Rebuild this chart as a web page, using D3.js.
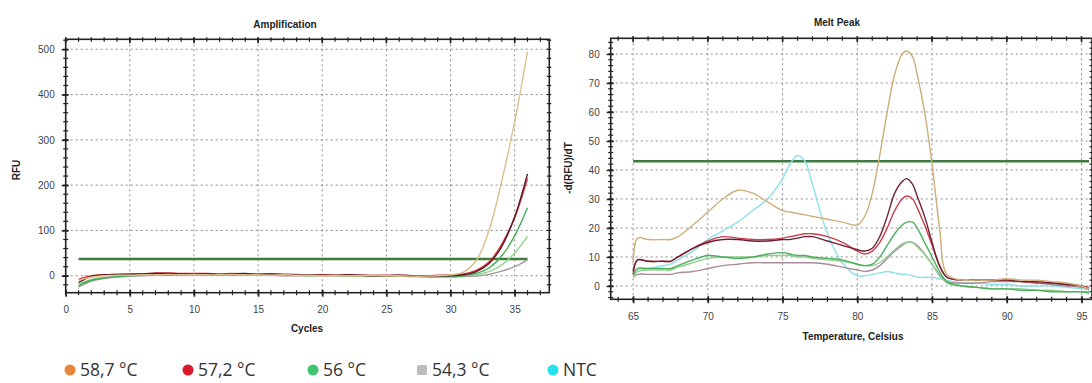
<!DOCTYPE html>
<html>
<head>
<meta charset="utf-8">
<script src="https://cdn.jsdelivr.net/npm/d3@7"></script>
<style>
  html, body { margin: 0; padding: 0; background: #fff; }
  svg { display: block; }
  .tick text { font-family: "Liberation Sans", Arial, sans-serif; font-size: 10px; fill: #444; }
  .ttl { font-family: "Liberation Sans", Arial, sans-serif; font-size: 10px; font-weight: bold; fill: #222; }
  .leg { font-family: "Open Sans", "Noto Sans", sans-serif; font-size: 17.5px; fill: #333; }
</style>
</head>
<body>
<svg id="chart" width="1092" height="383"></svg>
<script>
// ---- Amplification data (RFU per cycle) ----
const ampCycles = [1,2,3,4,5,6,7,8,9,10,11,12,13,14,15,16,17,18,19,20,21,22,23,24,25,26,27,28,29,30,31,32,33,34,35,36];
const amp587 = [-10,-3,0,1,1,2,2,3,2,3,2,2,3,2,2,1,2,1,1,0,1,0,0,1,0,0,-1,-1,0,2,8,33,100,210,340,495];
const amp572a = [-15,-2,2,3,3,4,5,5,4,4,4,3,4,5,3,4,3,2,2,1,1,2,1,0,0,1,0,-1,0,0,2,9,27,65,130,225];
const amp572b = [-8,0,2,3,4,4,6,6,5,5,5,4,5,4,4,4,3,3,2,2,2,2,1,1,1,1,0,0,1,2,4,12,30,70,128,215];
const amp56a = [-22,-10,-5,-2,0,1,2,2,2,3,2,2,2,3,2,2,2,1,1,1,1,0,0,0,0,0,-1,-2,-2,-1,0,5,17,44,88,150];
const amp56b = [-18,-8,-4,-1,0,1,1,2,2,2,2,2,1,2,2,1,1,1,0,0,0,0,-1,-1,-1,-1,-2,-2,-3,-2,-1,2,9,24,50,87];
const amp543 = [-25,-12,-6,-3,-1,0,1,1,1,2,1,1,1,1,1,1,0,0,0,0,0,0,-1,-1,-1,-1,-2,-2,-3,-3,-2,-1,3,10,20,35];
const ampThreshold = 37;
const ampThresholdRange = [1, 36];

// ---- Melt peak data (-d(RFU)/dT per temperature) ----
const meltTemps = [65,65.3,66,67,67.5,68,69,70,71,72,73,74,75,75.5,76,76.5,77,78,79,80,80.5,81,81.5,82,82.5,83,83.3,83.7,84,84.5,85,85.5,86,87,88,89,90,91,92,93,94,95,95.5];
const melt587 = [8,16.5,16,16,16,17,21,25.5,30,33,32,29,26,25.5,25,24.5,24,23,22,21,24,32,45,60,73,80,81,79,73,60,42,20,4,2,2,2,2.5,2,2,1.5,1,0,-1];
const meltNTC = [4,5,6,7,7.5,9,12,16,19,22,26,30,37,42,45,43,35,18,8,3.5,3.5,4,4.5,5,4.5,4,4,3.5,3,3,3,2.5,2,1,1,0.5,0.5,0,0,0,-0.5,-1,-1.5];
const melt572a = [5,9,8.5,8.5,8.5,10,13,15,16,16,15.5,15.5,16,16,16.5,17,17,15.5,14,12.5,12,13,17,24,32,36,37,35,31,24,15,7,3,2,2,2,2,1.5,1.5,1,0.5,0,-1];
const melt572b = [4,9,8.5,8.5,8.5,10,13,15.5,17,16.5,16,16,16.5,17,17.5,18,18,17,15,12,11,12,15,20,26,30,31,30,27,21,14,7,3,2,2,2,2,1.5,1,1,0.5,0,-0.5];
const melt56a = [4,6,6,6,6,7,9,10.5,10,9.5,10,11,11.5,11,10.5,10.5,10,9.5,9,7.5,7,7.5,10,14,18,21,22,22,20,15,10,5,1.5,0,-0.5,-1,-1,-1.5,-1.5,-2,-2,-2,-2.5];
const melt56b = [3,5,5.5,5.5,5.5,6.5,8,9.5,10,10,10,10.5,10.5,10.5,10,10,9.5,9,8.5,7.5,7,7,8,10,12.5,14.5,15,15,13.5,11,7.5,3.5,1,0,-0.5,-1,-1,-1,-1.5,-1.5,-2,-2,-2];
const melt543 = [3,4,4,4,4,4.5,5,6,7,7.5,8,8,8,8,8,8,8,7.5,6.5,5.5,5,5.5,7,9.5,12,14,15,15,14,11,7.5,4,1.5,1,1,1.5,1.5,1.5,1,0.5,0,-0.5,-1];
const meltThreshold = 43;
const meltThresholdRange = [65, 95.5];

// ---- Axis ticks and legend ----
const ampXTicks = [0,5,10,15,20,25,30,35];
const ampYTicks = [0,100,200,300,400,500];
const meltXTicks = [65,70,75,80,85,90,95];
const meltYTicks = [0,10,20,30,40,50,60,70,80];
const legendLabels = ["58,7 °C", "57,2 °C", "56 °C", "54,3 °C", "NTC"];
const legendColors = ["#e8873a", "#d9182d", "#3ec46d", "#bdbdbd", "#27e0f0"];
const legendShapes = ["circle", "circle", "circle", "square", "circle"];

const svg = d3.select("#chart");
svg.append("rect").attr("width", 1092).attr("height", 383).attr("fill", "#fff");

function drawPanel(o) {
  const g = svg.append("g");
  const x = d3.scaleLinear().domain(o.xDomain).range(o.xRange);
  const y = d3.scaleLinear().domain(o.yDomain).range(o.yRange);
  const [x0, x1] = o.xRange, [y0, y1] = o.yRange;

  // dotted grid
  const grid = g.append("g").attr("stroke", "#8c8c8c").attr("stroke-width", 1).attr("stroke-dasharray", "2,3");
  grid.selectAll(".gx").data(o.xTicks).join("line")
    .attr("x1", d => x(d)).attr("x2", d => x(d)).attr("y1", y1).attr("y2", y0);
  grid.selectAll(".gy").data(o.yTicks).join("line")
    .attr("y1", d => y(d)).attr("y2", d => y(d)).attr("x1", x0).attr("x2", x1);

  // minor ticks on all four sides
  const minorX = d3.range(Math.ceil(o.xDomain[0]), o.xDomain[1], o.xMinor);
  const minorY = d3.range(Math.ceil(o.yDomain[0] / o.yMinor) * o.yMinor, o.yDomain[1], o.yMinor);
  const mk = g.append("g").attr("stroke", "#222").attr("stroke-width", 1.2);
  mk.selectAll(".mb").data(minorX).join("line").attr("x1", d => x(d)).attr("x2", d => x(d)).attr("y1", y0 - 2.5).attr("y2", y0 + 2.5);
  mk.selectAll(".mt").data(minorX).join("line").attr("x1", d => x(d)).attr("x2", d => x(d)).attr("y1", y1 - 2).attr("y2", y1 + 2.5);
  mk.selectAll(".ml").data(minorY).join("line").attr("y1", d => y(d)).attr("y2", d => y(d)).attr("x1", x0 - 2.5).attr("x2", x0 + 2.5);
  mk.selectAll(".mr").data(minorY).join("line").attr("y1", d => y(d)).attr("y2", d => y(d)).attr("x1", x1 - 2.5).attr("x2", x1 + 2);

  // major axes with labels
  const ax = g.append("g").attr("transform", `translate(0,${y0 - 3})`)
    .call(d3.axisBottom(x).tickValues(o.xTicks).tickSize(7).tickPadding(o.xPad).tickSizeOuter(0));
  ax.select(".domain").remove();
  ax.selectAll(".tick line").attr("stroke", "#222").attr("stroke-width", 1.6);
  const ay = g.append("g").attr("transform", `translate(${x0 + 3},0)`)
    .call(d3.axisLeft(y).tickValues(o.yTicks).tickSize(7).tickPadding(o.yPad).tickSizeOuter(0));
  ay.select(".domain").remove();
  ay.selectAll(".tick line").attr("stroke", "#222").attr("stroke-width", 1.6);
  g.append("g").attr("stroke", "#222").attr("stroke-width", 1.6)
    .selectAll("line").data(o.xTicks).join("line")
    .attr("x1", d => x(d)).attr("x2", d => x(d)).attr("y1", y1 - 2).attr("y2", y1 + 4);

  // frame
  g.append("rect").attr("x", x0).attr("y", y1).attr("width", x1 - x0).attr("height", y0 - y1)
    .attr("fill", "none").attr("stroke", "#222").attr("stroke-width", 1.6);

  // threshold line
  g.append("line").attr("x1", x(o.threshRange[0])).attr("x2", x(o.threshRange[1]))
    .attr("y1", y(o.thresh)).attr("y2", y(o.thresh))
    .attr("stroke", "#3f7a3f").attr("stroke-width", 2.6);

  // curves
  const line = d3.line().x(d => x(d[0])).y(d => y(d[1])).curve(d3.curveCatmullRom.alpha(0.5));
  o.series.forEach(s => {
    g.append("path").datum(o.xs.map((v, i) => [v, s.values[i]]))
      .attr("d", line).attr("fill", "none").attr("stroke", s.color).attr("stroke-width", 1.4);
  });

  // titles
  g.append("text").attr("class", "ttl").attr("x", o.title[1]).attr("y", o.title[2])
    .attr("text-anchor", "middle").attr("dy", "0.35em").text(o.title[0]);
  g.append("text").attr("class", "ttl").attr("x", o.xTitle[1]).attr("y", o.xTitle[2])
    .attr("text-anchor", "middle").attr("dy", "0.35em").text(o.xTitle[0]);
  g.append("text").attr("class", "ttl").attr("transform", `translate(${o.yTitle[1]},${o.yTitle[2]}) rotate(-90)`)
    .attr("text-anchor", "middle").attr("dy", "0.35em").text(o.yTitle[0]);
}

drawPanel({
  xDomain: [0, 37.7], xRange: [65.7, 549.3],
  yDomain: [-37.5, 522], yRange: [292.7, 39.3],
  xTicks: ampXTicks, yTicks: ampYTicks, xMinor: 1, yMinor: 20,
  xPad: 9, yPad: 7,
  thresh: ampThreshold, threshRange: ampThresholdRange,
  xs: ampCycles,
  series: [
    { values: amp543, color: "#a8949c" },
    { values: amp56b, color: "#8fd68f" },
    { values: amp56a, color: "#3fae55" },
    { values: amp572b, color: "#d0383e" },
    { values: amp572a, color: "#5e1424" },
    { values: amp587, color: "#dcc18c" }
  ],
  title: ["Amplification", 285, 24],
  xTitle: ["Cycles", 307, 328],
  yTitle: ["RFU", 16, 170]
});

drawPanel({
  xDomain: [63.5, 95.7], xRange: [610.7, 1092],
  yDomain: [-4.6, 85.4], yRange: [299.3, 38.3],
  xTicks: meltXTicks, yTicks: meltYTicks, xMinor: 1, yMinor: 2,
  xPad: 10, yPad: 7,
  thresh: meltThreshold, threshRange: meltThresholdRange,
  xs: meltTemps,
  series: [
    { values: meltNTC, color: "#8de0ea" },
    { values: melt543, color: "#a88c98" },
    { values: melt56b, color: "#8fd08f" },
    { values: melt56a, color: "#4cae5c" },
    { values: melt572b, color: "#c8404c" },
    { values: melt572a, color: "#6e2033" },
    { values: melt587, color: "#cdae78" }
  ],
  title: ["Melt Peak", 837, 22],
  xTitle: ["Temperature, Celsius", 853, 336],
  yTitle: ["-d(RFU)/dT", 568, 168]
});

// legend
const legX = [70, 188, 313, 422, 553];
const leg = svg.append("g");
legendLabels.forEach((lab, i) => {
  const cx = legX[i], cy = 370;
  if (legendShapes[i] === "circle") {
    leg.append("circle").attr("cx", cx).attr("cy", cy).attr("r", 5.5).attr("fill", legendColors[i]);
  } else {
    leg.append("rect").attr("x", cx - 5).attr("y", cy - 5).attr("width", 10).attr("height", 10)
      .attr("rx", 1.5).attr("fill", legendColors[i]);
  }
  leg.append("text").attr("class", "leg").attr("x", cx + 10).attr("y", cy).attr("dy", "0.36em").text(lab);
});
</script>
</body>
</html>
